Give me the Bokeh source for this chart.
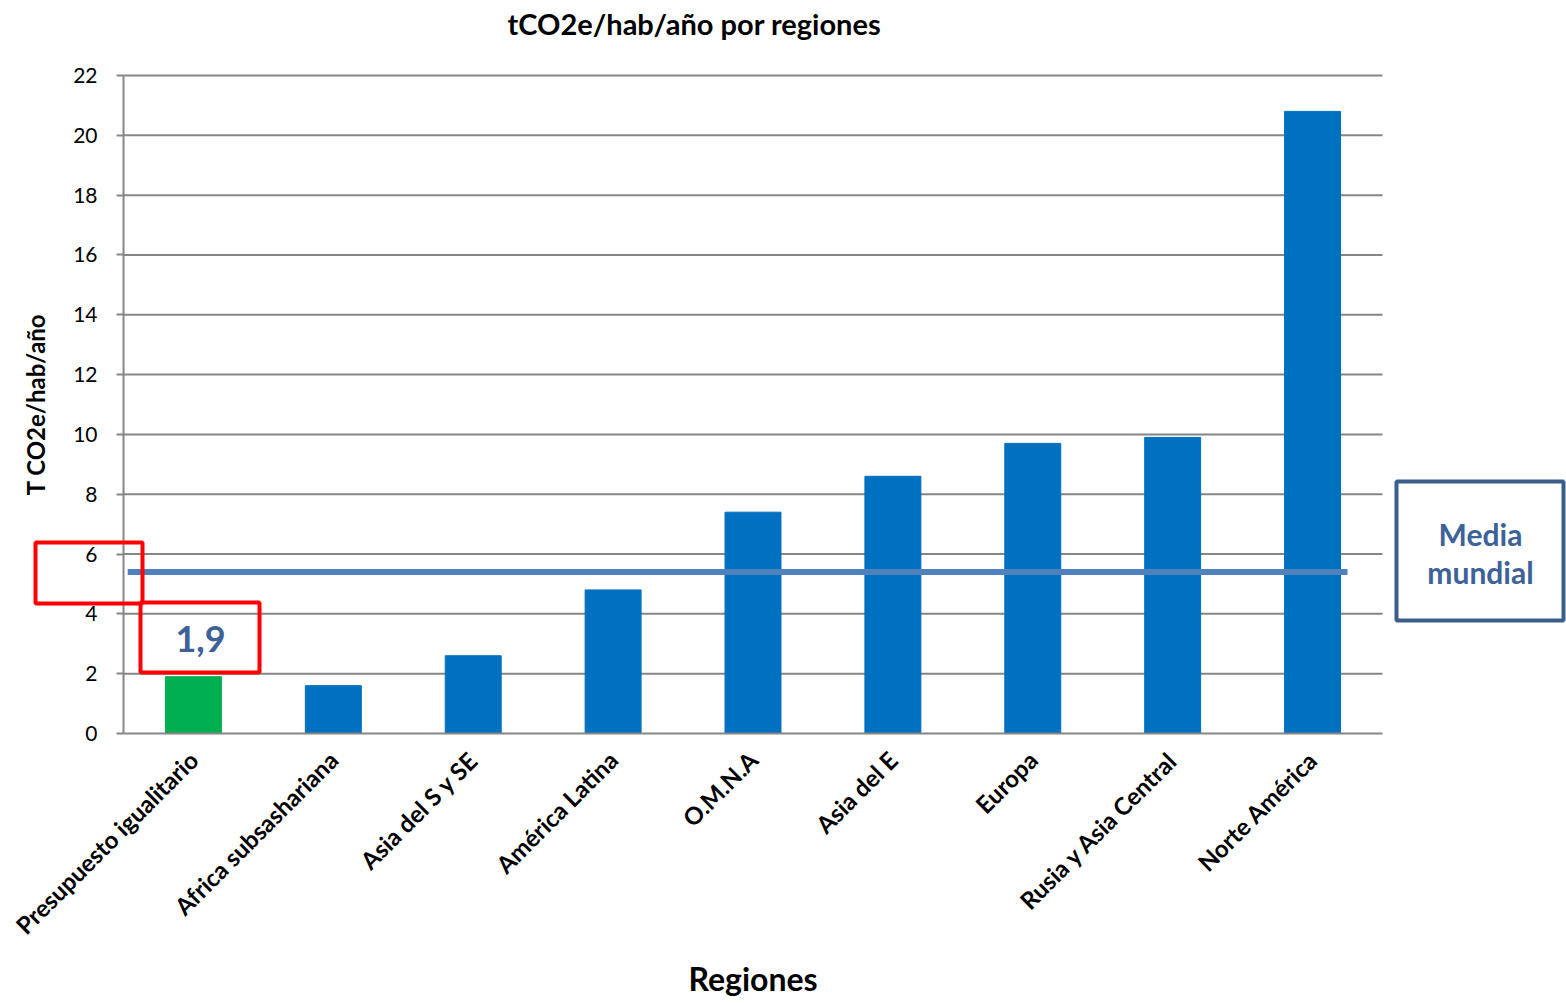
from bokeh.plotting import figure
from bokeh.models import BoxAnnotation, Label, FixedTicker, Range1d
from bokeh.embed import file_html
from bokeh.resources import INLINE
import math

categories = ["Presupuesto igualitario", "Africa subsashariana", "Asia del S y SE",
              "América Latina", "O.M.N.A", "Asia del E", "Europa",
              "Rusia y Asia Central", "Norte América"]
values = [1.9, 1.6, 2.6, 4.8, 7.4, 8.6, 9.7, 9.9, 20.8]
bar_colors = ["#00b050"] + ["#0070c0"] * 8
media_mundial = 5.4
y_ticks = list(range(0, 23, 2))
y_max = 22
title_text = "tCO2e/hab/año  por regiones"

FONT = "Lato"
GRAY = "#868686"

# layout constants (pixels): the frame covers the whole canvas,
# the chart area sits inside it at AX_*
W, H = 1566, 1000
AX_LEFT, AX_RIGHT, AX_TOP, AX_BOTTOM = 123, 1382, 75, 733
n = len(categories)
ux = (AX_RIGHT - AX_LEFT) / n
uy = (AX_BOTTOM - AX_TOP) / y_max
x_start, x_end = -AX_LEFT / ux, (W - AX_LEFT) / ux
y_start, y_end = -(H - AX_BOTTOM) / uy, y_max + AX_TOP / uy

positions = [i + 0.5 for i in range(n)]

p = figure(x_range=Range1d(x_start, x_end), y_range=Range1d(y_start, y_end),
           width=W, height=H, output_backend="svg", toolbar_location=None,
           min_border_left=0, min_border_right=0, min_border_top=0,
           min_border_bottom=0, outline_line_color=None)

# horizontal grid lines (at the y ticks, spanning the category area only)
grid_y = [t for t in y_ticks if t > 0]
p.segment(x0=[0] * len(grid_y), x1=[n] * len(grid_y), y0=grid_y, y1=grid_y,
          line_color=GRAY, line_width=2)

p.vbar(x=positions, top=values, width=0.4, color=bar_colors)

# world average line
p.segment(x0=[0.03], x1=[8.75], y0=[media_mundial], y1=[media_mundial],
          line_color="#4f81bd", line_width=6)

p.xgrid.grid_line_color = None
p.ygrid.grid_line_color = None

# y axis at the left edge of the category area
p.yaxis.fixed_location = 0
p.yaxis.bounds = (0, y_max)
p.yaxis.ticker = FixedTicker(ticks=y_ticks)
p.yaxis.major_tick_out = 7
p.yaxis.major_tick_in = 0
p.yaxis.minor_tick_line_color = None
p.yaxis.axis_line_color = GRAY
p.yaxis.axis_line_width = 2
p.yaxis.major_tick_line_color = GRAY
p.yaxis.major_tick_line_width = 2
p.yaxis.major_label_text_font = FONT
p.yaxis.major_label_text_font_size = "21px"
p.yaxis.major_label_text_color = "black"
p.yaxis.major_label_standoff = 19
p.yaxis.axis_label = "T CO2e/hab/año"
p.yaxis.axis_label_text_font = FONT
p.yaxis.axis_label_text_font_style = "bold"
p.yaxis.axis_label_text_font_size = "24px"
p.yaxis.axis_label_text_color = "black"
p.yaxis.axis_label_standoff = 20

# x axis with category labels, at y = 0
p.xaxis.fixed_location = 0
p.xaxis.bounds = (0, n)
p.xaxis.ticker = FixedTicker(ticks=positions)
p.xaxis.major_label_overrides = {pos: cat for pos, cat in zip(positions, categories)}
p.xaxis.axis_line_color = GRAY
p.xaxis.axis_line_width = 2
p.xaxis.major_tick_line_color = None
p.xaxis.minor_tick_line_color = None
p.xaxis.major_label_orientation = math.pi / 4
p.xaxis.major_label_text_font = FONT
p.xaxis.major_label_text_font_style = "bold"
p.xaxis.major_label_text_font_size = "24px"
p.xaxis.major_label_text_color = "black"
p.xaxis.major_label_standoff = 16
p.xaxis.axis_label = "Regiones"
p.xaxis.axis_label_text_font = FONT
p.xaxis.axis_label_text_font_style = "bold"
p.xaxis.axis_label_text_font_size = "32px"
p.xaxis.axis_label_text_color = "black"
p.xaxis.axis_label_standoff = 6

# chart title
p.add_layout(Label(x=507, y=23, x_units="canvas", y_units="canvas", text=title_text,
                   text_font=FONT, text_font_style="bold", text_font_size="29px",
                   text_color="black", text_align="left", text_baseline="middle"))

# annotation: red highlight boxes
box_kw = dict(left_units="canvas", right_units="canvas", top_units="canvas",
              bottom_units="canvas", fill_color=None, fill_alpha=0, line_alpha=1)
p.add_layout(BoxAnnotation(left=35, right=142, top=542, bottom=603,
                           line_color="#ff0000", line_width=4, **box_kw))
p.add_layout(BoxAnnotation(left=140, right=259, top=602, bottom=672,
                           line_color="#ff0000", line_width=4, **box_kw))
p.add_layout(Label(x=200, y=638, x_units="canvas", y_units="canvas",
                   text=f"{values[0]:.1f}".replace(".", ","),
                   text_font=FONT, text_font_style="bold", text_font_size="36px",
                   text_color="#3c6298", text_align="center", text_baseline="middle"))

# Media mundial box
p.add_layout(BoxAnnotation(left=1396, right=1563, top=481, bottom=620,
                           line_color="#3b5e8c", line_width=4, **box_kw))
p.add_layout(Label(x=1480, y=533, x_units="canvas", y_units="canvas", text="Media",
                   text_font=FONT, text_font_style="bold", text_font_size="30px",
                   text_color="#3c6298", text_align="center", text_baseline="middle"))
p.add_layout(Label(x=1480, y=571, x_units="canvas", y_units="canvas", text="mundial",
                   text_font=FONT, text_font_style="bold", text_font_size="30px",
                   text_color="#3c6298", text_align="center", text_baseline="middle"))

open("out.html", "w").write(file_html(p, INLINE))
